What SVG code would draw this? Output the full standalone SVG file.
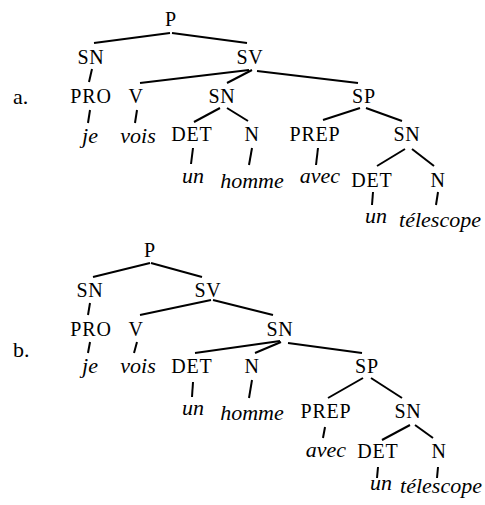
<svg xmlns="http://www.w3.org/2000/svg" width="485" height="505" viewBox="0 0 485 505">
<style>
text{font-family:"Liberation Serif","Times New Roman",serif;fill:#000;text-anchor:middle}
.c{font-size:20px;letter-spacing:0.8px}
.w{font-size:22px;font-style:italic}
.l{font-size:22px;text-anchor:start}
#edges line{stroke:#000;stroke-width:2;stroke-linecap:butt}
</style>
<rect width="485" height="505" fill="#fff"/>
<text class="l" x="13" y="104">a.</text>
<text class="l" x="13" y="357">b.</text>
<g id="edges">
<!-- tree a -->
<line x1="170" y1="33" x2="94" y2="43"/>
<line x1="172" y1="33" x2="247" y2="43"/>
<line x1="92" y1="69" x2="89" y2="82"/>
<line x1="249" y1="70" x2="140" y2="83"/>
<line x1="252" y1="70" x2="227" y2="83"/>
<line x1="257" y1="71" x2="358" y2="83"/>
<line x1="90" y1="110" x2="88" y2="123"/>
<line x1="137" y1="110" x2="135" y2="123"/>
<line x1="220" y1="108" x2="194" y2="122"/>
<line x1="227" y1="108" x2="248" y2="121"/>
<line x1="360" y1="108" x2="323" y2="120"/>
<line x1="366" y1="108" x2="402" y2="121"/>
<line x1="193" y1="148" x2="191" y2="164"/>
<line x1="252" y1="148" x2="249" y2="165"/>
<line x1="318" y1="148" x2="316" y2="165"/>
<line x1="405" y1="149" x2="377" y2="166"/>
<line x1="412" y1="149" x2="434" y2="166"/>
<line x1="373" y1="192" x2="372" y2="205"/>
<line x1="438" y1="192" x2="436" y2="205"/>
<!-- tree b -->
<line x1="150" y1="263" x2="93" y2="277"/>
<line x1="151" y1="263" x2="202" y2="277"/>
<line x1="90" y1="303" x2="88" y2="315"/>
<line x1="211" y1="300" x2="140" y2="315"/>
<line x1="213" y1="300" x2="273" y2="315"/>
<line x1="90" y1="342" x2="88" y2="353"/>
<line x1="137" y1="342" x2="134" y2="353"/>
<line x1="280" y1="341" x2="195" y2="353"/>
<line x1="281" y1="342" x2="255" y2="353"/>
<line x1="288" y1="343" x2="362" y2="353"/>
<line x1="193" y1="382" x2="192" y2="397"/>
<line x1="252" y1="380" x2="249" y2="398"/>
<line x1="363" y1="378" x2="328" y2="398"/>
<line x1="371" y1="378" x2="402" y2="398"/>
<line x1="325" y1="427" x2="323" y2="438"/>
<line x1="410" y1="425" x2="382" y2="440"/>
<line x1="415" y1="425" x2="433" y2="438"/>
<line x1="378" y1="467" x2="377" y2="478"/>
<line x1="438" y1="467" x2="437" y2="478"/>
</g>
<!-- tree a nodes -->
<g id="a-P"><text class="c" x="171" y="26">P</text></g>
<g id="a-SN1"><text class="c" x="91" y="64">SN</text></g>
<g id="a-SV"><text class="c" x="250" y="64">SV</text></g>
<g id="a-PRO"><text class="c" x="91" y="103">PRO</text></g>
<g id="a-V"><text class="c" x="136" y="103">V</text></g>
<g id="a-SN2"><text class="c" x="222" y="103">SN</text></g>
<g id="a-SP"><text class="c" x="364" y="103">SP</text></g>
<g id="a-je"><text class="w" x="90" y="143">je</text></g>
<g id="a-vois"><text class="w" x="138" y="143">vois</text></g>
<g id="a-DET1"><text class="c" x="192" y="141">DET</text></g>
<g id="a-N1"><text class="c" x="252" y="141">N</text></g>
<g id="a-PREP"><text class="c" x="315" y="141">PREP</text></g>
<g id="a-SN3"><text class="c" x="407" y="141">SN</text></g>
<g id="a-un1"><text class="w" x="193" y="183">un</text></g>
<g id="a-homme"><text class="w" x="252" y="188">homme</text></g>
<g id="a-avec"><text class="w" x="320" y="183">avec</text></g>
<g id="a-DET2"><text class="c" x="372" y="187">DET</text></g>
<g id="a-N2"><text class="c" x="438" y="187">N</text></g>
<g id="a-un2"><text class="w" x="376" y="223">un</text></g>
<g id="a-telescope"><text class="w" x="440" y="227">télescope</text></g>
<!-- tree b nodes -->
<g id="b-P"><text class="c" x="150" y="257">P</text></g>
<g id="b-SN1"><text class="c" x="90" y="297">SN</text></g>
<g id="b-SV"><text class="c" x="208" y="297">SV</text></g>
<g id="b-PRO"><text class="c" x="91" y="336">PRO</text></g>
<g id="b-V"><text class="c" x="136" y="336">V</text></g>
<g id="b-SN2"><text class="c" x="280" y="336">SN</text></g>
<g id="b-je"><text class="w" x="90" y="373">je</text></g>
<g id="b-vois"><text class="w" x="138" y="373">vois</text></g>
<g id="b-DET1"><text class="c" x="192" y="373">DET</text></g>
<g id="b-N1"><text class="c" x="252" y="373">N</text></g>
<g id="b-SP"><text class="c" x="367" y="373">SP</text></g>
<g id="b-un1"><text class="w" x="193" y="415">un</text></g>
<g id="b-homme"><text class="w" x="252" y="420">homme</text></g>
<g id="b-PREP"><text class="c" x="326" y="418">PREP</text></g>
<g id="b-SN3"><text class="c" x="408" y="418">SN</text></g>
<g id="b-avec"><text class="w" x="326" y="457">avec</text></g>
<g id="b-DET2"><text class="c" x="378" y="458">DET</text></g>
<g id="b-N2"><text class="c" x="439" y="458">N</text></g>
<g id="b-un2"><text class="w" x="381" y="490">un</text></g>
<g id="b-telescope"><text class="w" x="441" y="493">télescope</text></g>
</svg>
